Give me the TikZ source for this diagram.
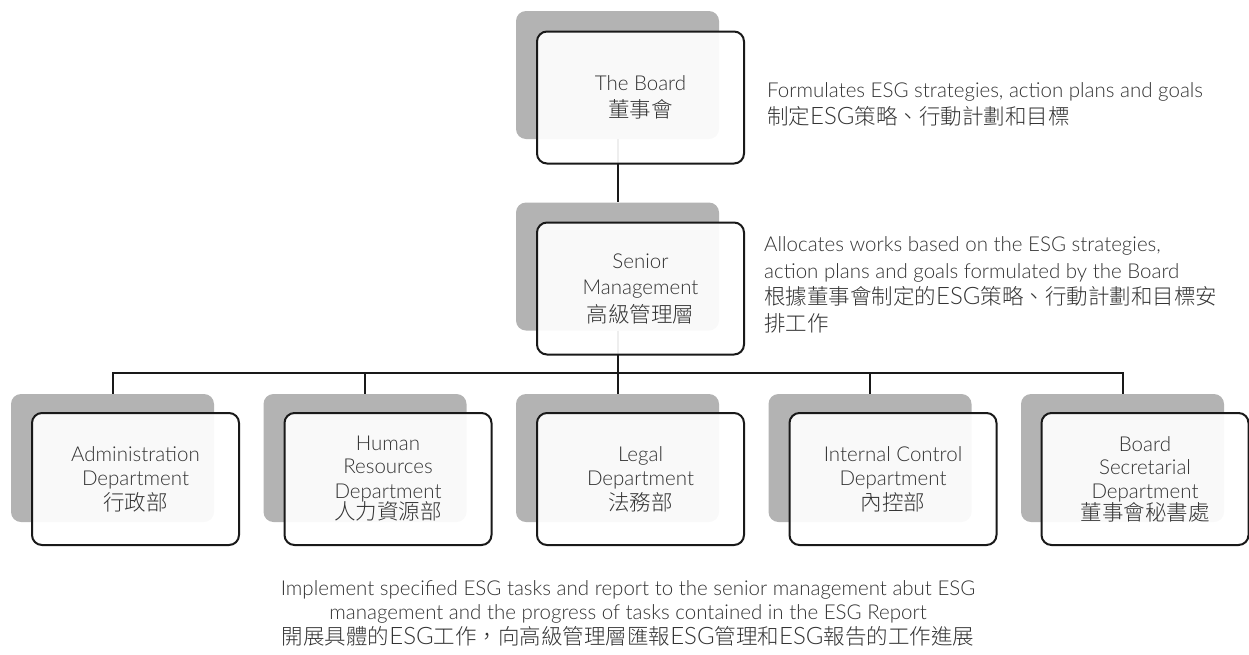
\documentclass[tikz,border=0pt]{standalone}
\usepackage{fontspec}
\setmainfont{Lato Light}
\newfontfamily\cjkfont{Noto Sans CJK TC Light}
\newcommand\zh[1]{{\cjkfont\fontsize{21.5}{25}\selectfont #1}}
\newcommand\esg{{\fontsize{24}{25}\selectfont ESG}}
\definecolor{txt}{HTML}{333333}
\definecolor{backgray}{HTML}{B3B3B3}
\tikzset{
  backbox/.style={fill=backgray, rounded corners=10pt, minimum width=203pt, minimum height=128pt, inner sep=0pt},
  frontbox/.style={draw=black!90, line width=2pt, fill=white, fill opacity=0.93, text opacity=1,
    rounded corners=10pt, minimum width=207pt, minimum height=132pt, inner sep=0pt,
    align=center, text=txt, font=\fontsize{20.5}{24.5}\selectfont},
  conn/.style={draw=black!90, line width=2pt},
  desc/.style={anchor=base west, align=left, text=txt, inner sep=0pt, font=\fontsize{20.5}{26.5}\selectfont},
  descc/.style={anchor=base, align=center, text=txt, inner sep=0pt, font=\fontsize{20.5}{24.5}\selectfont}
}
\begin{document}
\begin{tikzpicture}[x=1pt,y=-1pt]
\useasboundingbox (0,0) rectangle (1249,654);
% back boxes
\node[backbox] (b1) at (617.5,75) {};
\node[backbox] (b2) at (617.5,266.5) {};
\node[backbox] (d1) at (112.5,458) {};
\node[backbox] (d2) at (365,458) {};
\node[backbox] (d3) at (617.5,458) {};
\node[backbox] (d4) at (870,458) {};
\node[backbox] (d5) at (1122.5,458) {};
\coordinate (hub) at (617.5,373);
% connectors
\draw[conn] (b1.south) -- (b2.north);
\draw[conn] (b2.south) -- (hub);
\draw[conn] (d1.north) |- (hub);
\draw[conn] (d5.north) |- (hub);
\draw[conn] (d2.north) -- (d2.north |- hub);
\draw[conn] (d3.north) -- (hub);
\draw[conn] (d4.north) -- (d4.north |- hub);
% front boxes
\node[frontbox] (f1) at (640.5,97.5) {The Board\\[2pt]\zh{董事會}};
\node[frontbox] (f2) at (640.5,288.5) {Senior\\[2pt]Management\\[3pt]\zh{高級管理層}};
\node[frontbox] (g1) at (135.5,479) {Administration\\Department\\\zh{行政部}};
\node[frontbox] (g2) at (388,479) {Human\\[-1.5pt]Resources\\Department\\[-3pt]\zh{人力資源部}};
\node[frontbox] (g3) at (640.5,479) {Legal\\Department\\\zh{法務部}};
\node[frontbox] (g4) at (893,479) {Internal Control\\Department\\\zh{內控部}};
\node[frontbox] (g5) at (1145,479) {Board\\[-1.5pt]Secretarial\\Department\\[-3pt]\zh{董事會秘書處}};
% descriptions
\node[desc] (t1) at (767,124) {Formulates ESG strategies, action plans and goals\\
  \zh{制定}\esg\zh{策略、行動計劃和目標}};
\node[desc] (t2) at (764,331) {Allocates works based on the ESG strategies,\\
  action plans and goals formulated by the Board\\
  \zh{根據董事會制定的}\esg\zh{策略、行動計劃和目標安}\\
  \zh{排工作}};
\node[descc] (t3) at (628,644) {Implement specified ESG tasks and report to the senior management abut ESG\\
  management and the progress of tasks contained in the ESG Report\\
  \zh{開展具體的}\esg\zh{工作，向高級管理層匯報}\esg\zh{管理和}\esg\zh{報告的工作進展}};
\end{tikzpicture}
\end{document}
